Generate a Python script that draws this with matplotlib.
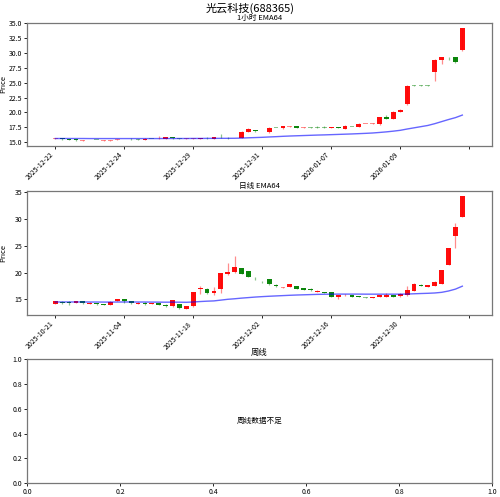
import matplotlib
matplotlib.use('Agg')
import matplotlib.pyplot as plt
import numpy as np

plt.rcParams['font.family'] = ['Noto Sans CJK SC', 'DejaVu Sans']
plt.rcParams['axes.unicode_minus'] = False

# 1 hour bars (open, high, low, close)
h_open = [15.55, 15.65, 15.55, 15.48, 15.22, 15.33, 15.40, 15.20, 15.25, 15.35,
          15.50, 15.60, 15.48, 15.40, 15.56, 15.50, 15.58, 15.78, 15.66, 15.55,
          15.58, 15.58, 15.75, 15.60, 15.72, 15.75, 15.68, 15.75, 16.75, 17.00,
          16.83, 16.65, 17.42, 17.30, 17.62, 17.70, 17.43, 17.45, 17.45, 17.48,
          17.35, 17.48, 17.25, 17.58, 17.55, 18.05, 18.12, 17.97, 19.25, 18.90,
          20.10, 21.40, 24.52, 24.52, 24.52, 26.80, 28.80, 29.38, 29.35, 30.45]
h_high = [15.68, 15.68, 15.58, 15.50, 15.36, 15.42, 15.42, 15.33, 15.38, 15.48,
          15.58, 15.62, 15.50, 15.62, 15.60, 16.10, 15.82, 15.80, 15.70, 15.62,
          15.62, 15.74, 15.78, 15.85, 16.30, 15.78, 15.72, 16.85, 17.35, 17.05,
          16.90, 17.50, 17.45, 17.78, 17.70, 17.72, 17.50, 17.48, 17.65, 17.65,
          17.48, 17.50, 17.90, 17.62, 18.20, 18.12, 18.20, 19.30, 19.55, 20.30,
          20.50, 24.55, 24.55, 24.55, 24.55, 29.00, 29.40, 29.40, 29.40, 34.30]
h_low = [15.52, 15.42, 15.35, 15.25, 15.20, 15.30, 15.32, 15.18, 15.22, 15.32,
         15.47, 15.42, 15.35, 15.38, 15.50, 15.48, 15.56, 15.58, 15.55, 15.52,
         15.56, 15.56, 15.60, 15.58, 15.66, 15.58, 15.62, 15.72, 16.70, 16.78,
         16.80, 16.60, 17.35, 17.28, 17.60, 17.35, 17.40, 17.40, 17.40, 17.38,
         17.32, 17.32, 17.20, 17.52, 17.50, 18.02, 18.10, 17.92, 18.85, 18.85,
         20.05, 21.30, 24.45, 24.45, 24.45, 25.25, 28.20, 28.90, 28.40, 30.40]
h_close = [15.65, 15.45, 15.38, 15.28, 15.33, 15.37, 15.36, 15.30, 15.36, 15.46,
           15.54, 15.45, 15.38, 15.58, 15.53, 15.56, 15.78, 15.62, 15.58, 15.59,
           15.61, 15.72, 15.62, 15.80, 15.69, 15.62, 15.65, 16.75, 17.18, 16.80,
           16.88, 17.45, 17.38, 17.70, 17.67, 17.38, 17.47, 17.42, 17.42, 17.40,
           17.48, 17.35, 17.70, 17.55, 18.00, 18.10, 18.17, 19.25, 18.90, 20.10,
           20.45, 24.50, 24.48, 24.48, 24.48, 28.90, 29.35, 29.32, 28.45, 34.20]
h_ema = [15.60, 15.60, 15.60, 15.60, 15.60, 15.59, 15.59, 15.59, 15.59, 15.59,
         15.59, 15.59, 15.59, 15.59, 15.59, 15.59, 15.60, 15.60, 15.60, 15.60,
         15.61, 15.61, 15.62, 15.62, 15.63, 15.63, 15.64, 15.67, 15.72, 15.76,
         15.80, 15.86, 15.91, 15.97, 16.02, 16.06, 16.10, 16.14, 16.18, 16.21,
         16.25, 16.29, 16.33, 16.37, 16.42, 16.47, 16.53, 16.62, 16.72, 16.84,
         16.98, 17.20, 17.40, 17.60, 17.80, 18.10, 18.45, 18.80, 19.12, 19.55]
h_ticks = ['2025-12-22', '2025-12-24', '2025-12-29', '2025-12-31',
           '2026-01-07', '2026-01-09', '']

# daily bars
d_open = [14.10, 14.55, 14.55, 14.40, 14.60, 14.20, 14.30, 14.10, 13.95, 14.65,
          15.00, 14.60, 14.20, 14.30, 14.10, 14.30, 14.00, 13.70, 14.07, 13.15,
          13.70, 16.85, 17.00, 16.20, 17.00, 19.75, 20.05, 20.85, 20.30, 18.85,
          18.30, 18.70, 17.75, 17.20, 17.30, 17.50, 17.10, 17.00, 16.40, 16.35,
          16.30, 15.35, 15.72, 15.80, 15.60, 15.38, 15.20, 15.38, 15.45, 15.80,
          15.55, 15.75, 16.60, 17.75, 17.30, 17.50, 17.85, 21.40, 26.80, 30.45]
d_high = [14.70, 14.60, 14.60, 14.75, 14.65, 14.50, 14.35, 14.15, 14.75, 15.10,
          15.05, 14.65, 14.55, 14.50, 14.35, 14.35, 14.05, 14.90, 14.10, 13.80,
          16.45, 17.50, 17.05, 17.25, 19.90, 21.75, 23.10, 20.90, 20.35, 19.10,
          18.35, 18.75, 17.80, 17.35, 17.90, 17.55, 17.15, 17.05, 16.65, 16.45,
          16.35, 15.80, 15.90, 15.85, 15.65, 15.40, 15.47, 15.80, 16.10, 15.85,
          16.15, 17.50, 18.00, 17.80, 17.75, 18.35, 20.45, 24.65, 29.30, 34.30]
d_low = [14.05, 14.20, 14.00, 14.35, 14.20, 14.15, 14.00, 13.85, 13.90, 14.60,
         14.40, 14.10, 14.05, 13.90, 14.05, 13.95, 13.65, 13.65, 13.25, 13.10,
         13.65, 15.90, 15.90, 15.85, 16.25, 19.50, 20.00, 19.75, 19.15, 18.55,
         18.10, 17.75, 17.35, 17.15, 17.25, 16.85, 16.75, 16.60, 16.35, 16.10,
         15.40, 15.10, 15.65, 15.45, 15.35, 15.25, 15.15, 15.35, 15.40, 15.45,
         15.50, 15.70, 16.55, 17.45, 17.25, 17.45, 17.80, 21.35, 24.50, 30.40]
d_close = [14.65, 14.25, 14.35, 14.65, 14.25, 14.40, 14.05, 13.90, 14.55, 15.05,
           14.60, 14.35, 14.35, 14.10, 14.30, 14.00, 13.70, 14.80, 13.30, 13.70,
           16.40, 17.20, 16.25, 16.55, 19.85, 20.10, 21.00, 19.80, 19.20, 18.75,
           18.15, 17.80, 17.40, 17.30, 17.85, 16.90, 16.80, 16.65, 16.60, 16.15,
           15.45, 15.75, 15.85, 15.50, 15.40, 15.30, 15.43, 15.75, 15.85, 15.50,
           15.90, 16.80, 17.80, 17.50, 17.70, 18.30, 20.40, 24.60, 28.45, 34.25]
d_ema = [14.50, 14.50, 14.50, 14.50, 14.50, 14.49, 14.49, 14.48, 14.48, 14.49,
         14.50, 14.50, 14.49, 14.49, 14.48, 14.47, 14.46, 14.47, 14.46, 14.44,
         14.50, 14.58, 14.65, 14.70, 14.85, 15.00, 15.10, 15.22, 15.32, 15.42,
         15.50, 15.57, 15.63, 15.69, 15.75, 15.80, 15.84, 15.88, 15.92, 15.94,
         15.96, 15.97, 15.97, 15.97, 15.97, 15.96, 15.96, 15.96, 15.96, 15.96,
         15.96, 15.98, 16.03, 16.08, 16.12, 16.18, 16.30, 16.55, 16.90, 17.45]
d_ticks = ['2025-10-21', '2025-11-04', '2025-11-18', '2025-12-02',
           '2025-12-16', '2025-12-30', '']


def candles(ax, o, h, l, c, ema, min_body):
    o, h, l, c = map(np.array, (o, h, l, c))
    x = np.arange(len(o))
    up = c >= o
    cols = np.where(up, 'red', 'green')
    ax.vlines(x, l, h, colors=cols, linewidth=0.9, alpha=0.45, zorder=2)
    diff = np.abs(c - o)
    thin = diff < min_body
    body = np.maximum(diff, min_body)
    mid = (o + c) / 2
    bottom = np.where(thin, mid - body / 2, np.minimum(o, c))
    ax.bar(x[~thin], body[~thin], bottom=bottom[~thin], width=0.7,
           color=cols[~thin], alpha=0.95, linewidth=0, zorder=3)
    ax.bar(x[thin], body[thin], bottom=bottom[thin], width=0.7,
           color=cols[thin], alpha=0.45, linewidth=0, zorder=3)
    ax.plot(x, ema, color='blue', alpha=0.6, linewidth=1, zorder=4)
    ax.set_xlim(-4.1, 63.3)
    ax.set_xticks(np.arange(0, 61, 10))


fig = plt.figure(figsize=(5, 4.97), dpi=100)
ax1 = fig.add_axes([0.054, 0.707, 0.93, 0.247])
ax2 = fig.add_axes([0.054, 0.366, 0.93, 0.250])
ax3 = fig.add_axes([0.054, 0.028, 0.93, 0.249])

candles(ax1, h_open, h_high, h_low, h_close, h_ema, 0.12)
ax1.set_ylim(14.4, 35.1)
ax1.set_yticks(np.arange(15, 35.1, 2.5))
ax1.set_yticklabels([f'{v:.1f}' for v in np.arange(15, 35.1, 2.5)])
ax1.set_xticklabels(h_ticks, rotation=45, ha='right')
ax1.set_title('1小时 EMA64', fontsize=5.5, pad=2)
ax1.set_ylabel('Price', fontsize=5.5)
ax1.yaxis.set_label_coords(-0.043, 0.5)

candles(ax2, d_open, d_high, d_low, d_close, d_ema, 0.14)
ax2.set_ylim(12.05, 35.25)
ax2.set_yticks([15, 20, 25, 30, 35])
ax2.set_xticklabels(d_ticks, rotation=45, ha='right')
ax2.set_title('日线 EMA64', fontsize=5.5, pad=2)
ax2.set_ylabel('Price', fontsize=5.5)
ax2.yaxis.set_label_coords(-0.043, 0.5)

ax3.set_xlim(0, 1)
ax3.set_ylim(0, 1)
ax3.set_title('周线', fontsize=6, pad=3)
ax3.text(0.5, 0.5, '周线数据不足', ha='center', va='center', fontsize=5.5)

for ax in (ax1, ax2, ax3):
    ax.tick_params(labelsize=5, length=2, width=0.6, pad=1.5)
    for s in ax.spines.values():
        s.set_color('#777777')
        s.set_linewidth(0.9)

fig.suptitle('光云科技(688365)', fontsize=8, y=0.995)
fig.savefig('out.png', dpi=100)
